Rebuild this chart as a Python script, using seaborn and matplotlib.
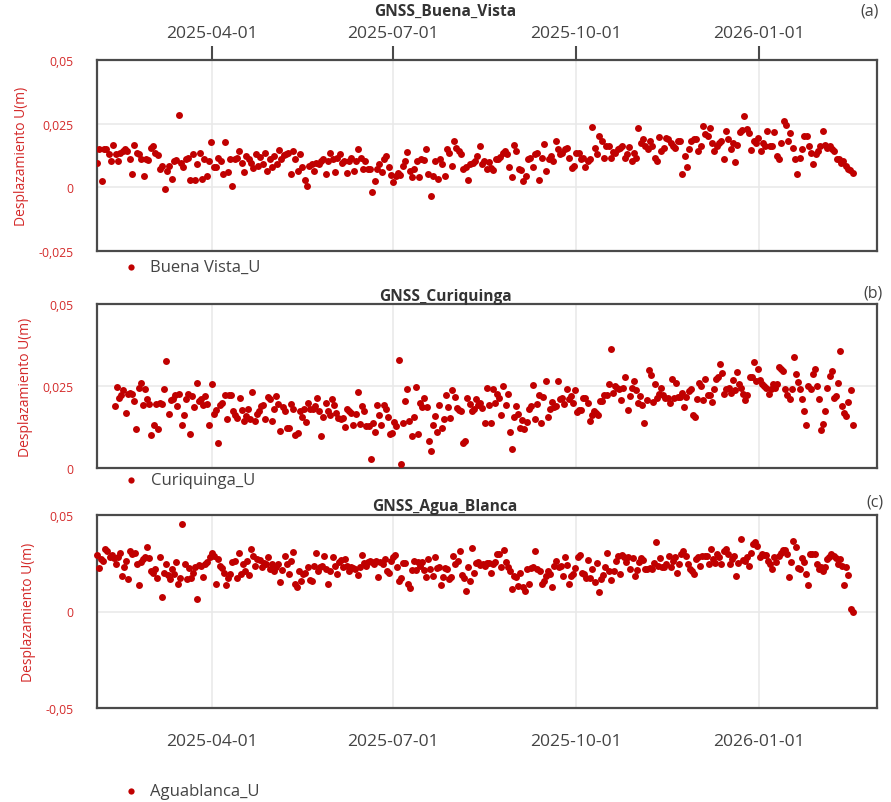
import numpy as np
import pandas as pd
import matplotlib
matplotlib.use("Agg")
import matplotlib.pyplot as plt
import matplotlib.dates as mdates
from matplotlib.ticker import FuncFormatter
import seaborn as sns

# ---------------- data (vertical displacement, mm) ----------------
bv_first = [9.7, 15.2, 2.6, 15.2, 14.9, 13.0, 10.4, 16.8, 13.0, 10.4, 13.6, 14.2, 14.9, 14.2, 11.3, 5.3, 16.8,
            13.6, 13.0, 11.0, 4.3, 11.0, 10.7, 15.5, 16.2, 13.6, 12.6, 7.1, 8.4, -0.6, 6.5, 8.4, 3.2, 10.4, 10.7,
            28.5, 9.7, 7.8, 11.0, 11.7, 3.0, 13.0, 3.0, 9.1, 13.3, 3.2, 11.0, 4.5, 10.4, 17.7, 7.8, 7.8, 11.7,
            10.4, 5.2, 17.7, 6.1, 11.0, 0.4, 11.3, 11.7, 14.2, 9.7, 6.1, 12.3, 11.0, 9.7, 7.4, 13.0, 8.4, 12.0,
            9.1, 13.6, 6.5, 11.0, 7.8, 12.3, 9.1, 14.6, 11.0, 12.6, 13.0, 13.6, 5.2, 14.2, 11.0, 6.5, 13.2, 7.8,
            2.8, 0.6, 8.4, 9.1, 6.5, 9.7, 9.1, 10.4, 11.0, 5.2, 10.4, 13.6, 11.0, 6.1, 11.7, 13.0, 9.7, 10.4,
            5.8, 10.4, 11.7, 6.5, 10.4, 14.9, 11.7, 7.1, 10.4, 7.1, 7.1, -1.9, 2.6, 7.1, 9.1, 6.1, 11.3, 12.3,
            7.8, 4.8, 2.2, 4.5, 5.8, 4.8, 8.4, 10.4, 13.9, 6.5, 3.9, 7.1, 10.4, 4.1, 11.0, 10.7, 15.2, 5.2,
            -3.5, 4.5, 10.4, 3.2, 11.0, 9.1, 4.5, 14.9, 13.6, 8.4, 18.1, 15.5, 14.2, 13.0, 7.1, 7.8, 2.8, 9.1,
            9.7, 10.4, 12.3, 16.4, 9.1, 10.4, 7.1]
bv_second = [10.0, 7.4, 6.7, 11.0, 11.3, 12.0, 13.6, 14.2, 13.0, 7.8, 3.9, 16.6, 14.2, 7.1, 6.9, 2.6, 4.5, 11.0,
             11.7, 7.8, 13.0, 13.6, 3.0, 11.7, 17.1, 6.5, 11.0, 12.3, 10.4, 18.1, 14.9, 13.0, 13.6, 14.9, 15.5,
             11.7, 7.4, 8.4, 13.6, 13.6, 11.0, 11.7, 7.8, 10.4, 11.0, 23.7, 15.5, 13.0, 20.3, 18.1, 11.7, 16.2,
             16.2, 11.7, 13.9, 13.6, 14.9, 15.5, 16.4, 11.7, 13.0, 15.9, 10.4, 13.6, 11.7, 23.3, 17.5, 18.8,
             16.2, 14.9, 18.1, 16.2, 11.7, 10.4, 19.8, 14.2, 15.5, 19.4, 18.8, 17.5, 16.2, 15.5, 18.1, 18.1,
             5.2, 12.3, 7.8, 14.9, 18.1, 18.8, 19.0, 14.2, 16.2, 24.0, 21.1, 20.1, 23.3, 17.5, 14.2, 16.2, 17.5,
             18.1, 11.0, 22.0, 19.0, 14.9, 17.5, 10.0, 16.8, 21.8, 22.7, 28.2, 22.9, 21.4, 14.6, 18.1, 17.5,
             19.4, 14.2, 17.5, 16.2, 22.0, 16.2, 16.2, 21.6, 12.3, 11.0, 17.5, 25.9, 24.6, 18.1, 21.4, 15.5,
             11.3, 5.2, 11.7, 15.2, 20.1, 20.3, 16.2, 13.6, 9.1, 13.0, 14.2, 16.2, 22.0, 16.8, 15.5, 16.2, 15.2,
             14.2, 11.3, 11.0, 9.7, 10.4, 8.4, 7.1, 6.9, 5.6]

cq_first = [19.0, 24.7, 21.4, 22.2, 23.7, 16.7, 22.6, 22.9, 22.6, 20.4, 11.8, 24.3, 25.8, 19.3, 24.0, 20.9, 19.5,
            10.2, 13.1, 19.5, 11.8, 19.8, 19.5, 24.0, 32.5, 16.4, 20.6, 20.9, 22.2, 18.8, 22.6, 13.1, 16.2, 20.9,
            22.6, 10.5, 21.9, 18.5, 26.0, 20.4, 20.9, 19.3, 21.9, 19.5, 13.1, 25.7, 16.4, 17.8, 7.7, 19.1, 19.8,
            22.4, 15.0, 22.4, 22.2, 17.3, 16.2, 15.2, 21.2, 17.8, 14.4, 16.0, 18.1, 15.0, 23.2, 14.2, 16.4, 17.3,
            18.8, 19.1, 15.0, 21.6, 20.9, 14.4, 18.1, 21.9, 19.5, 11.3, 18.5, 17.5, 12.3, 12.3, 19.5, 18.1, 10.0,
            10.8, 17.3, 15.4, 18.1, 13.9, 19.8, 18.1, 18.1, 18.8, 21.4, 17.3, 9.8, 15.7, 19.8, 17.3, 16.2, 20.9,
            19.1, 16.7, 15.2, 15.0, 15.2, 12.4, 18.1, 17.3, 16.7, 13.1, 16.4, 23.2, 13.3, 18.8, 17.3, 12.9, 12.9,
            2.6, 13.6, 11.1, 19.1, 16.2, 13.1, 19.1, 18.1, 15.7, 10.5, 10.8, 13.9, 12.9, 33.0, 1.2, 13.6, 20.4,
            24.0, 14.4, 9.8, 15.4, 24.7, 10.5, 19.8, 18.5, 21.2, 18.5, 8.2, 5.1, 13.1, 16.0, 11.1, 19.1, 12.1,
            15.0, 22.2, 18.5, 15.2, 23.7, 21.6, 18.3, 17.8, 17.5, 7.7, 8.2, 21.4, 19.5, 17.3, 18.1, 20.9, 19.1,
            19.8, 18.3, 13.6, 24.3]
cq_second = [19.1, 13.6, 24.2, 19.8, 22.6, 21.2, 16.2, 25.0, 19.1, 22.6, 11.1, 5.7, 15.4, 18.8, 16.4, 12.1, 14.7,
             11.9, 13.9, 18.1, 18.8, 25.3, 15.0, 19.5, 22.2, 13.6, 21.6, 26.5, 15.4, 18.1, 20.1, 18.5, 18.8, 26.5,
             20.9, 21.2, 19.5, 24.0, 20.9, 21.9, 19.8, 23.7, 17.0, 17.8, 17.8, 21.4, 21.4, 19.8, 14.2, 16.2, 17.3,
             16.7, 16.2, 20.4, 20.4, 22.2, 22.2, 25.5, 36.4, 22.9, 25.0, 24.3, 24.0, 20.6, 24.5, 27.8, 17.8, 21.9,
             24.3, 26.5, 23.7, 19.8, 22.1, 19.1, 13.6, 20.6, 29.9, 28.4, 20.1, 25.5, 21.2, 22.6, 24.3, 22.2, 21.4,
             21.4, 19.8, 27.1, 21.2, 26.0, 21.6, 21.6, 22.9, 18.5, 21.6, 23.4, 24.0, 16.2, 15.4, 20.9, 26.0, 25.0,
             20.6, 27.1, 22.2, 22.2, 20.1, 24.0, 27.1, 27.6, 31.7, 29.1, 22.6, 24.0, 24.5, 22.9, 26.8, 23.7, 29.4,
             25.5, 24.5, 22.6, 20.6, 22.2, 27.6, 27.8, 32.2, 26.5, 30.2, 26.8, 25.5, 25.0, 24.5, 22.6, 24.0, 25.7,
             24.5, 25.5, 30.7, 30.2, 29.6, 24.0, 22.2, 20.9, 24.0, 33.8, 28.6, 26.3, 24.0, 20.9, 17.3, 13.1, 25.0,
             24.0, 28.8, 30.2, 25.0, 21.1, 11.6, 13.3, 17.3, 24.3, 28.1, 29.6, 21.2, 21.9, 26.0, 35.8, 18.8, 16.7,
             16.0, 20.1, 23.7, 13.1]

ab_first = [29.4, 22.5, 27.2, 26.3, 32.4, 31.5, 28.4, 29.4, 27.7, 24.6, 28.4, 30.1, 18.5, 22.8, 26.0, 16.8, 31.5,
            29.8, 30.1, 24.6, 13.7, 25.4, 27.2, 28.0, 33.6, 27.7, 21.1, 19.7, 22.0, 17.6, 28.0, 7.6, 19.7, 24.6,
            18.9, 16.8, 22.0, 19.4, 25.4, 14.2, 17.6, 45.3, 24.6, 16.8, 22.5, 17.3, 20.2, 23.2, 6.7, 24.2, 23.7,
            18.0, 24.6, 25.4, 28.0, 30.1, 28.9, 14.2, 27.2, 23.7, 22.5, 20.2, 13.8, 17.6, 19.4, 25.4, 26.3, 17.6,
            30.1, 19.4, 24.6, 21.1, 26.3, 19.0, 32.4, 28.9, 23.7, 27.2, 26.6, 22.8, 24.9, 24.6, 28.0, 22.0, 24.6,
            20.8, 22.8, 24.6, 15.1, 21.5, 28.9, 24.6, 19.4, 26.3, 30.6, 14.2, 12.8, 21.1, 15.9, 19.4, 20.2, 22.8,
            16.3, 15.9, 23.7, 30.1, 21.1, 22.8, 23.7, 28.9, 22.0, 14.5, 20.8, 28.0, 23.7, 19.4, 25.4, 26.6, 22.8,
            27.2, 23.7, 20.8, 22.8, 22.5, 22.0, 19.0, 23.2, 29.4, 24.9, 23.7, 25.4, 26.3, 25.4, 24.6, 26.3, 18.0,
            25.4, 24.6, 27.2, 20.8, 19.7, 26.3, 28.0, 29.4, 23.2, 15.9, 17.3, 24.9, 24.9, 14.5, 12.1, 21.5, 26.3,
            21.5, 25.4, 23.7, 25.4, 21.5, 18.0, 27.2, 22.0, 18.5, 28.0, 22.5, 22.8, 13.8, 18.0, 22.5, 22.0, 16.8,
            18.0, 28.9, 24.6, 26.3, 31.1, 19.0, 17.6, 10.7, 23.2, 15.9, 32.7, 19.7, 24.9, 25.4, 24.2, 24.6, 23.7,
            24.9]
ab_second = [24.9, 20.2, 24.6, 25.4, 29.8, 29.8, 23.2, 31.8, 25.4, 22.8, 21.1, 11.6, 18.5, 18.0, 13.3, 19.7, 12.5,
             10.4, 22.0, 14.2, 22.5, 22.8, 31.1, 22.0, 21.1, 14.5, 15.9, 18.5, 21.1, 19.4, 12.8, 23.7, 26.3, 22.8,
             23.7, 18.5, 28.0, 24.2, 14.2, 18.5, 19.4, 22.5, 28.4, 29.4, 20.2, 19.4, 17.6, 26.6, 17.6, 22.0, 15.1,
             24.9, 9.9, 16.8, 19.0, 22.8, 30.1, 20.8, 16.3, 21.1, 26.0, 28.9, 19.4, 29.4, 28.0, 25.4, 28.0, 22.0,
             27.7, 18.5, 21.5, 25.4, 27.7, 26.6, 22.0, 22.0, 22.5, 22.0, 24.9, 35.8, 23.7, 27.7, 22.8, 22.8, 24.6,
             28.9, 22.8, 26.3, 28.0, 19.7, 24.6, 29.8, 31.5, 28.9, 24.6, 22.0, 20.8, 19.4, 27.2, 28.0, 23.7, 28.9,
             28.9, 28.9, 24.6, 32.4, 27.2, 24.9, 29.8, 28.0, 24.6, 31.1, 32.4, 29.8, 24.6, 27.2, 28.9, 18.5, 24.9,
             37.5, 26.6, 26.3, 28.0, 23.7, 30.1, 34.9, 35.8, 34.1, 28.0, 29.8, 29.4, 29.4, 26.3, 24.6, 22.0, 28.0,
             25.4, 28.9, 30.1, 31.8, 31.8, 29.8, 18.0, 25.4, 36.7, 33.2, 22.5, 22.0, 27.7, 25.4, 19.4, 13.7, 29.8,
             29.8, 29.8, 24.6, 22.0, 22.8, 20.8, 22.8, 27.2, 28.0, 29.8, 28.9, 27.7, 24.6, 27.2, 23.7, 13.8, 23.2,
             19.0, 1.2, 0.0]

# segment date spans (daily solutions, first / second half of the record)
bv_spans = [("2025-02-02", "2025-08-17"), ("2025-08-18", "2026-02-17")]
cq_spans = [("2025-02-11", "2025-08-17"), ("2025-08-18", "2026-02-17")]
ab_spans = [("2025-02-02", "2025-08-17"), ("2025-08-18", "2026-02-17")]

titles = ["GNSS_Buena_Vista", "GNSS_Curiquinga", "GNSS_Agua_Blanca"]
letters = ["(a)", "(b)", "(c)"]
series_names = ["Buena Vista_U", "Curiquinga_U", "Aguablanca_U"]
xtick_dates = ["2025-04-01", "2025-07-01", "2025-10-01", "2026-01-01"]
yticks_list = [[-0.025, 0, 0.025, 0.05], [0, 0.025, 0.05], [-0.05, 0, 0.05]]
ylims = [(-0.025, 0.05), (0, 0.05), (-0.05, 0.05)]
xlim = ("2025-02-02", "2026-03-01 06:00")


def build(segs, spans):
    frames = []
    for vals, (a, b) in zip(segs, spans):
        frames.append(pd.DataFrame({"fecha": pd.date_range(a, b, periods=len(vals)),
                                    "U": np.array(vals) / 1000.0}))
    return pd.concat(frames, ignore_index=True)


dfs = [build([bv_first, bv_second], bv_spans),
       build([cq_first, cq_second], cq_spans),
       build([ab_first, ab_second], ab_spans)]

# ---------------- style ----------------
sns.set_style("white")
plt.rcParams["font.family"] = ["Open Sans", "DejaVu Sans"]

RED_TXT = "#d42a2a"
DOT = "#c00000"
GRID = "#e8e8e8"
SPINE = "#4a4a4a"
TICKTXT = "#444444"

W, H = 891, 803
fig = plt.figure(figsize=(W / 100, H / 100), dpi=100)

# axes boxes in pixels: (left, top, right, bottom)
boxes = [(97, 61, 877, 252), (97, 305, 877, 469), (97, 516, 877, 709)]
title_y = [12, 297, 507]
letter_pos = [(870, 12), (873, 294), (875, 503)]
legend_y = [268, 481, 792]


def fx(px):
    return px / W


def fy(py):
    return 1 - py / H


fmt = FuncFormatter(lambda v, p: "0" if abs(v) < 1e-12 else f"{v:g}".replace(".", ","))

for i, df in enumerate(dfs):
    l, t, r, b = boxes[i]
    ax = fig.add_axes([fx(l), fy(b), fx(r) - fx(l), (b - t) / H])
    sns.scatterplot(data=df, x="fecha", y="U", ax=ax, color=DOT, s=25, linewidth=0,
                    label=series_names[i], zorder=3, clip_on=(i != 2))
    ax.set_xlim(pd.Timestamp(xlim[0]), pd.Timestamp(xlim[1]))
    ax.set_ylim(*ylims[i])
    ax.set_yticks(yticks_list[i])
    ax.yaxis.set_major_formatter(fmt)
    ax.set_xticks([pd.Timestamp(d) for d in xtick_dates])
    ax.xaxis.set_major_formatter(mdates.DateFormatter("%Y-%m-%d"))
    ax.grid(True, color=GRID, linewidth=1.1, zorder=0)
    ax.set_axisbelow(True)
    for sp in ax.spines.values():
        sp.set_color(SPINE)
        sp.set_linewidth(1.6)
    ax.tick_params(axis="y", length=0, pad=17, labelsize=8.8, labelcolor=RED_TXT)
    ax.set_xlabel("")
    ax.set_ylabel("Desplazamiento U(m)", color=RED_TXT, fontsize=10, labelpad=7)
    if i == 0:
        ax.xaxis.tick_top()
        ax.tick_params(axis="x", direction="out", length=10, width=1.5, color=SPINE,
                       labelsize=12.6, labelcolor=TICKTXT, pad=4)
    elif i == 1:
        ax.tick_params(axis="x", length=0, labelbottom=False)
    else:
        ax.tick_params(axis="x", direction="out", length=10, width=1.5, color=SPINE,
                       labelsize=12.6, labelcolor=TICKTXT, pad=8)
    leg = ax.legend(loc="center left", bbox_to_anchor=(fx(123), fy(legend_y[i])),
                    bbox_transform=fig.transFigure, frameon=False, fontsize=12,
                    handlelength=0.9, handletextpad=0.75, borderpad=0, borderaxespad=0,
                    markerscale=0.9)
    for txt in leg.get_texts():
        txt.set_color(TICKTXT)
    fig.text(fx(445), fy(title_y[i]), titles[i], ha="center", va="center",
             fontsize=11.2, fontweight="bold", color="#333333")
    fig.text(fx(letter_pos[i][0]), fy(letter_pos[i][1]), letters[i], ha="center", va="center",
             fontsize=11.5, color=TICKTXT)

fig.savefig("out.png", dpi=100)
